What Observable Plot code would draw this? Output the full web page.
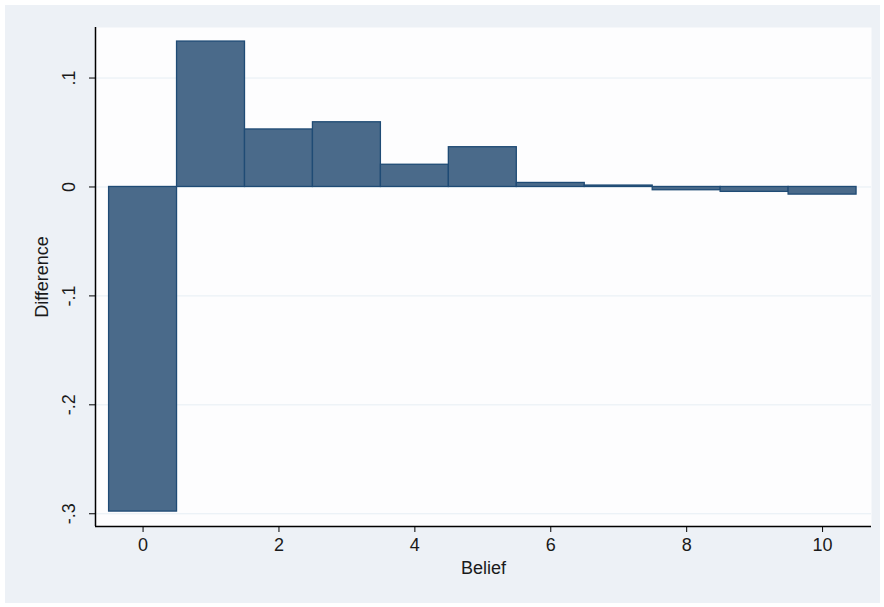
<!DOCTYPE html>
<html>
<head>
<meta charset="utf-8">
<script src="https://cdn.jsdelivr.net/npm/d3@7"></script>
<script src="https://cdn.jsdelivr.net/npm/@observablehq/plot@0.6"></script>
<style>
  html, body { margin: 0; padding: 0; background: #ffffff; }
  #wrap { position: absolute; left: 5px; top: 5px; width: 875px; height: 598px; background: #edf1f6; }
  svg { font-family: "Liberation Sans", Arial, sans-serif; }
</style>
</head>
<body>
<div id="wrap"></div>
<script>
// Data
const belief = [0, 1, 2, 3, 4, 5, 6, 7, 8, 9, 10];
const difference = [-0.298, 0.1335, 0.0528, 0.0594, 0.0204, 0.0365, 0.0037, 0.0013, -0.003, -0.0045, -0.007];
const xTicks = [0, 2, 4, 6, 8, 10];
const yTicks = [-0.3, -0.2, -0.1, 0, 0.1];

const data = belief.map((b, i) => ({belief: b, difference: difference[i]}));
const xDomain = [-0.7, 10.72];
const yDomain = [-0.3117, 0.1464];
const fmtY = d => d === 0 ? "0" : (d < 0 ? "-" : "") + String(Math.abs(d)).replace(/^0/, "");

const chart = Plot.plot({
  width: 875,
  height: 598,
  marginLeft: 90,
  marginTop: 22,
  marginRight: 9,
  marginBottom: 77,
  style: {background: "transparent", fontSize: "18px", fontFamily: "Liberation Sans, Arial, sans-serif", color: "#1a1a1a"},
  x: {domain: xDomain, ticks: xTicks},
  y: {domain: yDomain, ticks: yTicks},
  marks: [
    Plot.frame({fill: "#fdfdfe", stroke: null}),
    Plot.gridY(yTicks, {stroke: "#e6eef4", strokeOpacity: 1, strokeWidth: 1}),
    Plot.rectY(data, {
      x1: d => d.belief - 0.5,
      x2: d => d.belief + 0.5,
      y1: 0,
      y2: "difference",
      fill: "#4a6a8a",
      stroke: "#1f4b75",
      strokeWidth: 1.3,
      inset: 0
    }),
    Plot.ruleX([xDomain[0]], {stroke: "#000", strokeWidth: 1.5}),
    Plot.ruleY([yDomain[0]], {stroke: "#000", strokeWidth: 1.5}),
    Plot.axisY(yTicks, {tickSize: 6, tickFormat: () => "", label: null, stroke: "#000"}),
    Plot.text(yTicks, {
      y: d => d, frameAnchor: "left", dx: -26, rotate: -90,
      text: fmtY, textAnchor: "middle", lineAnchor: "middle", fontSize: 18, fill: "#1a1a1a"
    }),
    Plot.axisX(xTicks, {tickSize: 6, tickPadding: 6, label: null, fontSize: 18, stroke: "#000"}),
    Plot.text(["Belief"], {frameAnchor: "bottom", dy: 47, text: d => d, fontSize: 18, fill: "#1a1a1a"}),
    Plot.text(["Difference"], {frameAnchor: "left", dx: -53, rotate: -90, text: d => d, textAnchor: "middle", lineAnchor: "middle", fontSize: 18, fill: "#1a1a1a"})
  ]
});
document.getElementById("wrap").appendChild(chart);
</script>
</body>
</html>
